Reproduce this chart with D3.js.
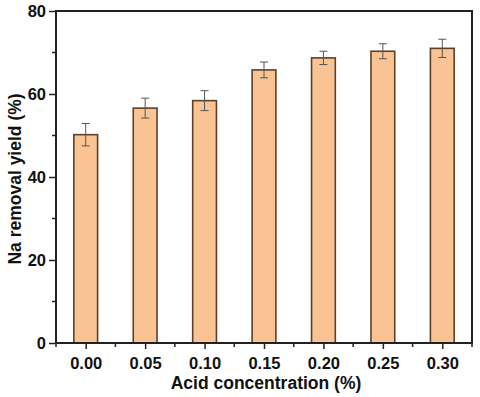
<!DOCTYPE html>
<html><head><meta charset="utf-8">
<script src="https://cdn.jsdelivr.net/npm/d3@7"></script>
<style>body{margin:0;background:#fff}svg{display:block}text{font-family:Arial,"Liberation Sans",sans-serif;font-weight:bold}</style>
</head><body><svg id="c" width="480" height="397"></svg>
<script>
const categories = [0.00, 0.05, 0.10, 0.15, 0.20, 0.25, 0.30];
const tickLabels = ["0.00","0.05","0.10","0.15","0.20","0.25","0.30"];
const values = [50.2, 56.6, 58.4, 65.8, 68.7, 70.3, 71.0];
const errors = [2.7, 2.4, 2.4, 1.9, 1.6, 1.8, 2.2];
const yTicks = [0, 20, 40, 60, 80];

const svg = d3.select("#c");
const L = 56, R = 472, T = 11, B = 343;
const x = d3.scaleLinear().domain([-0.025, 0.325]).range([L, R]);
const y = d3.scaleLinear().domain([0, 80]).range([B, T]);
const bw = x(0.02) - x(0);

// bars
svg.append("g").selectAll("rect").data(values).join("rect")
  .attr("x", (d,i)=>x(categories[i]) - bw/2)
  .attr("y", d=>y(d))
  .attr("width", bw)
  .attr("height", d=>y(0)-y(d))
  .attr("fill", "#f9c394")
  .attr("stroke", "#5e4128")
  .attr("stroke-width", 1.6);

// error bars
const eg = svg.append("g").attr("stroke", "#555").attr("stroke-width", 1);
values.forEach((v,i)=>{
  const cx = x(categories[i]);
  eg.append("line").attr("x1",cx).attr("x2",cx).attr("y1",y(v+errors[i])).attr("y2",y(v-errors[i]));
  eg.append("line").attr("x1",cx-4).attr("x2",cx+4).attr("y1",y(v+errors[i])).attr("y2",y(v+errors[i]));
  eg.append("line").attr("x1",cx-4).attr("x2",cx+4).attr("y1",y(v-errors[i])).attr("y2",y(v-errors[i]));
});

// frame
svg.append("rect").attr("x",L).attr("y",T).attr("width",R-L).attr("height",B-T)
  .attr("fill","none").attr("stroke","#222").attr("stroke-width",2);

// y axis
const ya = svg.append("g").attr("transform",`translate(${L},0)`)
  .call(d3.axisLeft(y).tickValues(yTicks).tickSize(7).tickPadding(3).tickFormat(d3.format("d")));
ya.select(".domain").remove();
ya.selectAll("line").attr("stroke","#222").attr("stroke-width",1.5);
ya.selectAll("text").attr("font-size",16.5).attr("fill","#111").style("font-weight","bold");
svg.append("g").selectAll("line").data([10,30,50,70]).join("line")
  .attr("x1",L-4).attr("x2",L).attr("y1",d=>y(d)).attr("y2",d=>y(d)).attr("stroke","#222").attr("stroke-width",1.5);

// x axis
const xa = svg.append("g").attr("transform",`translate(0,${B})`)
  .call(d3.axisBottom(x).tickValues(categories).tickSize(6).tickPadding(8).tickFormat((d,i)=>tickLabels[i]));
xa.select(".domain").remove();
xa.selectAll("line").attr("stroke","#222").attr("stroke-width",1.5);
xa.selectAll("text").attr("font-size",16.5).attr("fill","#111").style("font-weight","bold");
svg.append("g").selectAll("line").data([-0.025,0.025,0.075,0.125,0.175,0.225,0.275,0.325]).join("line")
  .attr("x1",d=>x(d)).attr("x2",d=>x(d)).attr("y1",B).attr("y2",B+4).attr("stroke","#222").attr("stroke-width",1.5);

// titles
svg.append("text").attr("x",(L+R)/2+2).attr("y",389).attr("text-anchor","middle")
  .attr("font-size",17.5).attr("fill","#111").text("Acid concentration (%)");
svg.append("text").attr("transform",`translate(21,${(T+B)/2+2}) rotate(-90)`).attr("text-anchor","middle")
  .attr("font-size",17.5).attr("fill","#111").text("Na removal yield (%)");
</script></body></html>
